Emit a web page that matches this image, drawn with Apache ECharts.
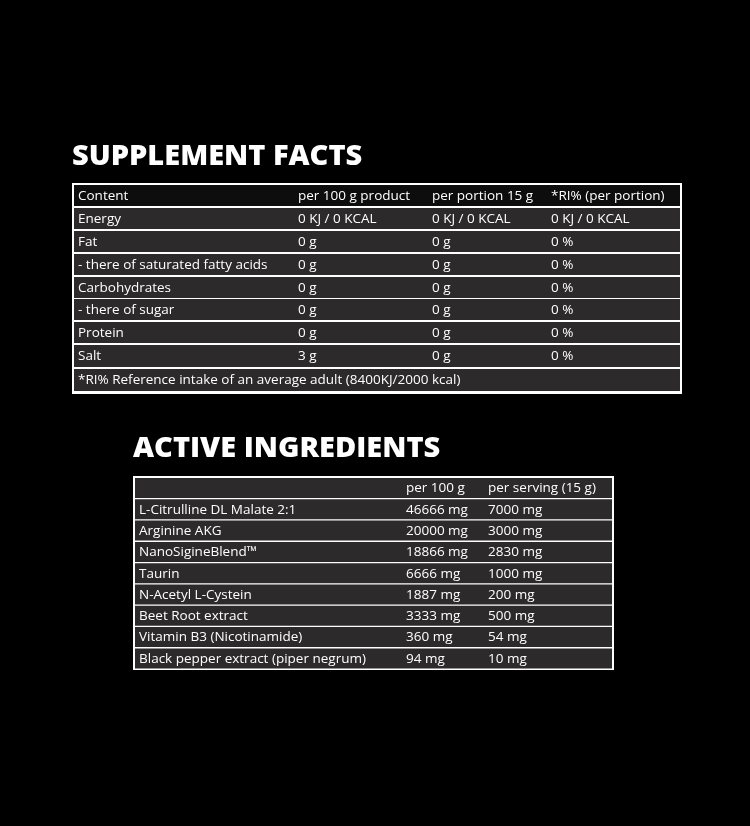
<!DOCTYPE html>
<html><head><meta charset="utf-8">
<script src="https://cdn.jsdelivr.net/npm/echarts@6/dist/echarts.min.js"></script>
<style>html,body{margin:0;background:#000}#c{width:750px;height:826px}</style>
</head><body><div id="c"></div>
<script>
const factsTitle = 'SUPPLEMENT FACTS';
const factsHeader = ['Content', 'per 100 g product', 'per portion 15 g', '*RI% (per portion)'];
const factsNames = ['Energy', 'Fat', '- there of saturated fatty acids', 'Carbohydrates', '- there of sugar', 'Protein', 'Salt'];
const factsPer100 = ['0 KJ / 0 KCAL', '0 g', '0 g', '0 g', '0 g', '0 g', '3 g'];
const factsPortion = ['0 KJ / 0 KCAL', '0 g', '0 g', '0 g', '0 g', '0 g', '0 g'];
const factsRI = ['0 KJ / 0 KCAL', '0 %', '0 %', '0 %', '0 %', '0 %', '0 %'];
const factsNote = '*RI% Reference intake of an average adult (8400KJ/2000 kcal)';

const activeTitle = 'ACTIVE INGREDIENTS';
const activeHeader = ['', 'per 100 g', 'per serving (15 g)'];
const activeNames = ['L-Citrulline DL Malate 2:1', 'Arginine AKG', 'NanoSigineBlend™', 'Taurin', 'N-Acetyl L-Cystein', 'Beet Root extract', 'Vitamin B3 (Nicotinamide)', 'Black pepper extract (piper negrum)'];
const activePer100 = ['46666 mg', '20000 mg', '18866 mg', '6666 mg', '1887 mg', '3333 mg', '360 mg', '94 mg'];
const activeServing = ['7000 mg', '3000 mg', '2830 mg', '1000 mg', '200 mg', '500 mg', '54 mg', '10 mg'];

const FONT = '"Open Sans", "Noto Sans", sans-serif';
const g = [];
const txt = (x, y, s, size, weight) => g.push({type:'text', x, y, style:{text:s, fill:'#fff', font:`${weight||500} ${size}px ${FONT}`, textVerticalAlign:'middle'}});

// top table
const T = {x:72, y:183, w:610, h:211};
const topTops = [185, 208, 231, 254, 277, 299, 322, 345, 369];
const topH = [21, 21, 21, 21, 21, 21, 21, 22, 22];
const topCols = [78, 298, 432, 551];
g.push({type:'rect', shape:{x:T.x, y:T.y, width:T.w, height:T.h}, style:{fill:'#fff'}});
const topRows = [factsHeader].concat(factsNames.map((n,i)=>[n, factsPer100[i], factsPortion[i], factsRI[i]]));
topRows.push([factsNote]);
topRows.forEach((r,i)=>{
  g.push({type:'rect', shape:{x:T.x+2, y:topTops[i], width:T.w-4, height:topH[i]}, style:{fill: i===0 ? '#0d0d0d' : '#2c2a2a'}});
  r.forEach((s,j)=>txt(topCols[j], topTops[i]+topH[i]/2+0.5, s, 13.5));
});
g.push({type:'text', x:72, y:157, style:{text:factsTitle, fill:'#fff', font:`800 29px ${FONT}`, textVerticalAlign:'middle'}});

// bottom table
const B = {x:133, y:476, w:481, h:194};
const botCols = [139, 406, 488];
const botRows = [activeHeader].concat(activeNames.map((n,i)=>[n, activePer100[i], activeServing[i]]));
g.push({type:'rect', shape:{x:B.x, y:B.y, width:B.w, height:B.h}, style:{fill:'#fff'}});
botRows.forEach((r,i)=>{
  const y0 = 478 + i*21.3;
  g.push({type:'rect', shape:{x:B.x+2, y:y0, width:B.w-4, height:20}, style:{fill:'#2c2a2a'}});
  r.forEach((s,j)=>txt(botCols[j], y0+10.5, s, 13.5));
});
g.push({type:'text', x:133, y:449, style:{text:activeTitle, fill:'#fff', font:`800 29px ${FONT}`, textVerticalAlign:'middle'}});

const chart = echarts.init(document.getElementById('c'));
chart.setOption({backgroundColor:'#000', graphic:{elements:g}});
</script></body></html>
